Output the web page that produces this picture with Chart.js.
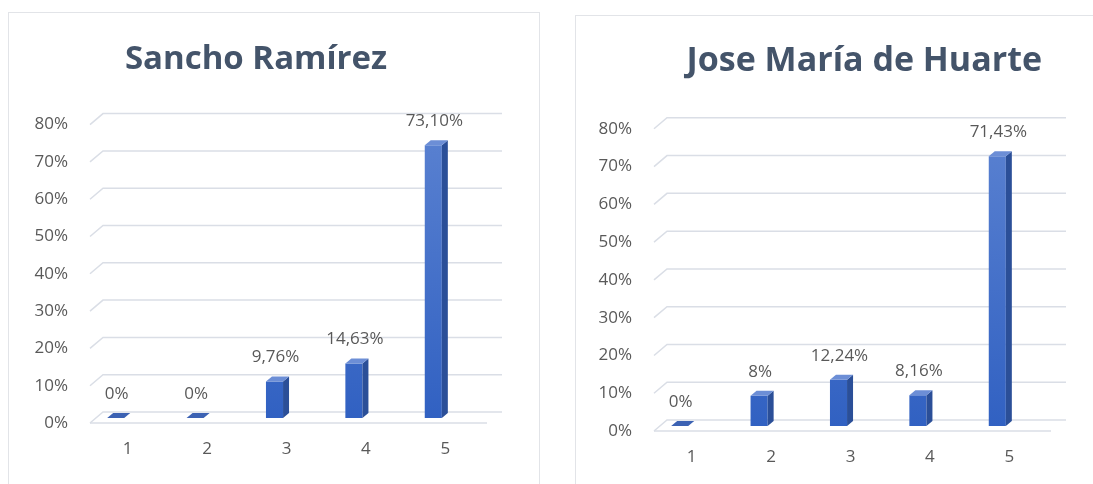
<!DOCTYPE html>
<html lang="es">
<head>
<meta charset="UTF-8">
<title>Sancho Ramírez / Jose María de Huarte</title>
<script src="https://cdn.jsdelivr.net/npm/chart.js"></script>
<style>
  html, body { margin: 0; padding: 0; background: #fff; overflow: hidden; }
  .card { position: absolute; border: 1px solid #e2e4e8; background: #fff; }
  #cardLeft { left: 8px; top: 12px; width: 530px; height: 490px; }
  #cardRight { left: 575px; top: 15px; width: 540px; height: 490px; }
  canvas { display: block; }
</style>
</head>
<body>
<div class="card" id="cardLeft"><canvas id="chartLeft" width="530" height="470"></canvas></div>
<div class="card" id="cardRight"><canvas id="chartRight" width="517" height="468"></canvas></div>

<script>
// data
const categories = ['1', '2', '3', '4', '5'];
const sanchoValues = [0, 0, 9.76, 14.63, 73.10];
const sanchoLabels = ['0%', '0%', '9,76%', '14,63%', '73,10%'];
const huarteValues = [0, 8, 12.24, 8.16, 71.43];
const huarteLabels = ['0%', '8%', '12,24%', '8,16%', '71,43%'];

const tickColor = '#595959';
const titleColor = '#44546a';
const fontFamily = "'Open Sans', 'Noto Sans', sans-serif";

// 3D look: back gridlines with a small slanted lead-in
const grid3d = {
    id: 'grid3d',
    beforeDatasetsDraw(chart) {
        const { ctx, chartArea: a, scales: { y } } = chart;
        ctx.save();
        ctx.strokeStyle = '#dadee6';
        ctx.lineWidth = 1.5;
        y.ticks.forEach(t => {
            const py = y.getPixelForValue(t.value);
            ctx.beginPath();
            ctx.moveTo(a.left + 14, py + 5);
            ctx.lineTo(a.left + 27, py - 6);
            ctx.lineTo(a.right + 29, py - 6);
            ctx.stroke();
        });
        const p0 = y.getPixelForValue(0);
        ctx.beginPath();
        ctx.moveTo(a.left + 14, p0 + 5);
        ctx.lineTo(a.right + 14, p0 + 5);
        ctx.stroke();
        ctx.restore();
    }
};

// side and top faces of each bar, plus value labels
const bars3d = {
    id: 'bars3d',
    afterDatasetsDraw(chart, args, opts) {
        const { ctx } = chart;
        const dx = 6, dy = 5;
        ctx.save();
        chart.getDatasetMeta(0).data.forEach((bar, i) => {
            const { x, y, base, width } = bar.getProps(['x', 'y', 'base', 'width'], true);
            const l = x - width / 2, r = x + width / 2;
            ctx.fillStyle = '#2b4f98';
            ctx.beginPath();
            ctx.moveTo(r, y);
            ctx.lineTo(r + dx, y - dy);
            ctx.lineTo(r + dx, base - dy);
            ctx.lineTo(r, base);
            ctx.closePath();
            ctx.fill();

            ctx.fillStyle = Math.abs(base - y) < 1 ? '#3c62b3' : '#6c8ed6';
            ctx.beginPath();
            ctx.moveTo(l, y);
            ctx.lineTo(l + dx, y - dy);
            ctx.lineTo(r + dx, y - dy);
            ctx.lineTo(r, y);
            ctx.closePath();
            ctx.fill();

            ctx.fillStyle = tickColor;
            ctx.font = '17px ' + fontFamily;
            ctx.textAlign = 'center';
            ctx.textBaseline = 'middle';
            ctx.fillText(opts.labels[i], x + 1, y - 24);
        });
        ctx.restore();
    }
};

function makeChart(id, title, values, labels, lay) {
    const ctx = document.getElementById(id).getContext('2d');
    return new Chart(ctx, {
        type: 'bar',
        data: {
            labels: categories,
            datasets: [{
                data: values,
                backgroundColor: (c) => {
                    const area = c.chart.chartArea;
                    if (!area) return '#4472c4';
                    const g = c.chart.ctx.createLinearGradient(0, area.top, 0, area.bottom);
                    g.addColorStop(0, '#5b82d1');
                    g.addColorStop(1, '#3161c2');
                    return g;
                },
                borderWidth: 0,
                categoryPercentage: 1,
                barPercentage: 0.215
            }]
        },
        options: {
            responsive: false,
            animation: false,
            layout: { padding: { left: 0, right: lay.padRight, top: 0, bottom: 0 } },
            plugins: {
                legend: { display: false },
                tooltip: { enabled: false },
                title: {
                    display: true,
                    text: title,
                    align: lay.titleAlign,
                    color: titleColor,
                    font: { family: fontFamily, size: lay.titleSize, weight: 'bold' },
                    padding: { top: lay.titleTop, bottom: lay.titleBottom }
                },
                bars3d: { labels: labels }
            },
            scales: {
                x: {
                    grid: { display: false, drawTicks: false },
                    border: { display: false },
                    ticks: { color: tickColor, font: { family: fontFamily, size: 17 }, padding: 21, labelOffset: 12 },
                    afterFit: s => { s.height = lay.xHeight; }
                },
                y: {
                    min: 0,
                    max: 80,
                    grid: { display: false, drawTicks: false },
                    border: { display: false },
                    ticks: {
                        stepSize: 10,
                        color: tickColor,
                        font: { family: fontFamily, size: 17 },
                        padding: 8,
                        labelOffset: 5,
                        callback: v => v + '%'
                    },
                    afterFit: s => { s.width = lay.yWidth; }
                },
                yr: {
                    position: 'right',
                    grid: { display: false },
                    border: { display: false },
                    ticks: { display: false },
                    afterFit: s => { s.width = lay.rightWidth; }
                }
            }
        },
        plugins: [grid3d, bars3d]
    });
}

makeChart('chartLeft', 'Sancho Ramírez', sanchoValues, sanchoLabels, {
    padRight: 36, titleAlign: 'center', titleSize: 33, titleTop: 27, titleBottom: 40,
    xHeight: 65, yWidth: 67, rightWidth: 30
});

makeChart('chartRight', 'Jose María de Huarte', huarteValues, huarteLabels, {
    padRight: 51, titleAlign: 'end', titleSize: 34, titleTop: 25, titleBottom: 42,
    xHeight: 58, yWidth: 64, rightWidth: 5
});
</script>
</body>
</html>
